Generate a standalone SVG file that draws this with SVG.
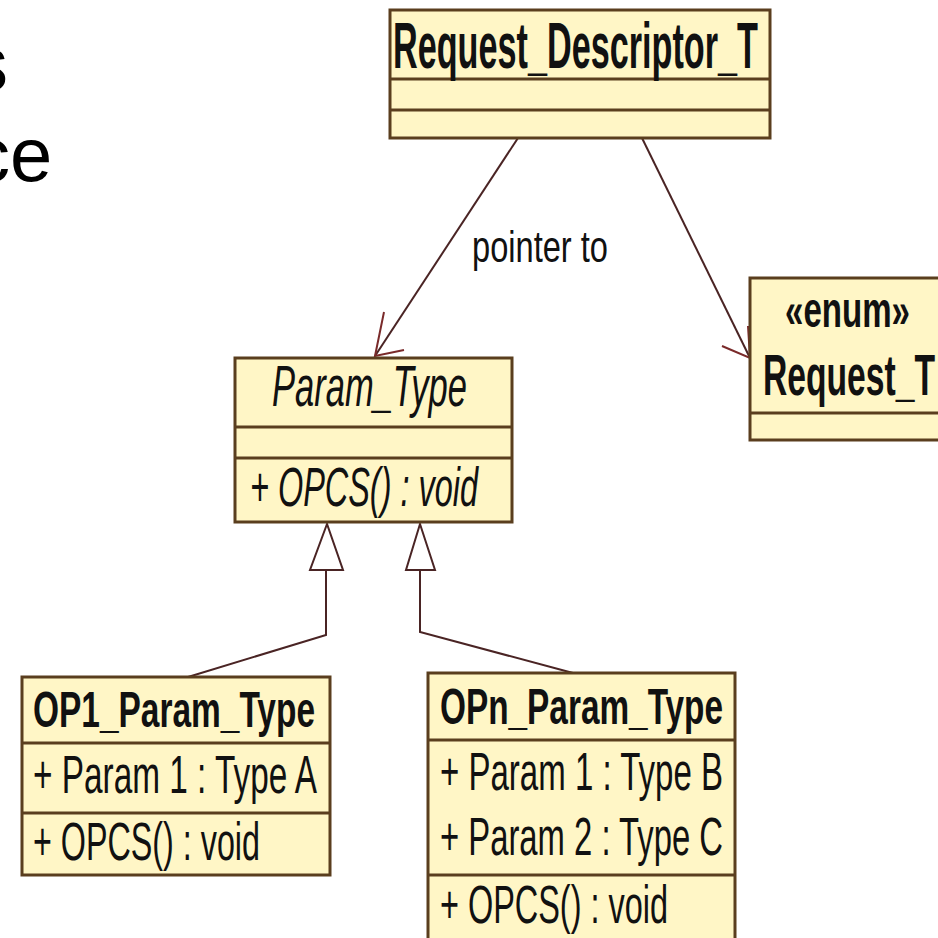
<svg xmlns="http://www.w3.org/2000/svg" width="938" height="938" viewBox="0 0 938 938">
  <style>
    .box { fill: #fff6c6; stroke: #5a3e1e; stroke-width: 3; }
    .sep { stroke: #5a3e1e; stroke-width: 3; }
    .t { font-family: "Liberation Sans", Arial, sans-serif; fill: #111; }
    .title { font-weight: bold; }
    .it { font-style: italic; }
    .edge { fill: none; stroke: #4a2424; stroke-width: 2; }
    .head { fill: none; stroke: #7a2a2a; stroke-width: 2; }
    .tri { fill: #ffffff; stroke: #4a2424; stroke-width: 2; }
    .slide { font-family: "Liberation Sans", Arial, sans-serif; font-size: 76px; fill: #000; }
  </style>

  <rect width="938" height="938" fill="#ffffff"/>

  <!-- slide text clipped at the left edge -->
  <text class="slide" x="-30" y="90">s</text>
  <text class="slide" x="-28" y="181">ce</text>

  <!-- connectors -->
  <g id="connectors">
    <!-- association: pointer to -->
    <line class="edge" x1="518" y1="138" x2="375" y2="356"/>
    <path class="head" d="M384,312 L375,356 L404,350"/>
    <text class="t" x="472" y="262" font-size="44" textLength="136" lengthAdjust="spacingAndGlyphs">pointer to</text>
    <!-- association to enum -->
    <line class="edge" x1="642" y1="138" x2="750" y2="358"/>
    <path class="head" d="M748,326 L750,358 L722,346"/>
    <!-- generalization OP1 -> Param_Type -->
    <path class="edge" d="M188,677 L326,635 L326,570"/>
    <polygon class="tri" points="327,524 310,570 343,570"/>
    <!-- generalization OPn -> Param_Type -->
    <path class="edge" d="M573,673 L420,632 L420,570"/>
    <polygon class="tri" points="420,524 406,570 435,570"/>
  </g>

  <g id="request-descriptor">
    <rect class="box" x="390" y="10" width="380" height="128"/>
    <line class="sep" x1="390" y1="79" x2="770" y2="79"/>
    <line class="sep" x1="390" y1="110" x2="770" y2="110"/>
    <text class="t title" x="393" y="68" font-size="64" textLength="365" lengthAdjust="spacingAndGlyphs">Request_Descriptor_T</text>
  </g>

  <g id="request-t">
    <rect class="box" x="750" y="278" width="200" height="162"/>
    <line class="sep" x1="750" y1="413" x2="950" y2="413"/>
    <text class="t title" x="785" y="327" font-size="50" textLength="125" lengthAdjust="spacingAndGlyphs">«enum»</text>
    <text class="t title" x="763" y="395" font-size="58" textLength="172" lengthAdjust="spacingAndGlyphs">Request_T</text>
  </g>

  <g id="param-type">
    <rect class="box" x="235" y="358" width="277" height="164"/>
    <line class="sep" x1="235" y1="427" x2="512" y2="427"/>
    <line class="sep" x1="235" y1="458" x2="512" y2="458"/>
    <text class="t it" x="272" y="406" font-size="58" textLength="195" lengthAdjust="spacingAndGlyphs">Param_Type</text>
    <text class="t it" x="250" y="506" font-size="56" textLength="228" lengthAdjust="spacingAndGlyphs">+ OPCS() : void</text>
  </g>

  <g id="op1-param-type">
    <rect class="box" x="22" y="677" width="308" height="198"/>
    <line class="sep" x1="22" y1="743" x2="330" y2="743"/>
    <line class="sep" x1="22" y1="813" x2="330" y2="813"/>
    <text class="t title" x="33" y="727" font-size="50" textLength="282" lengthAdjust="spacingAndGlyphs">OP1_Param_Type</text>
    <text class="t" x="33" y="793" font-size="53" textLength="284" lengthAdjust="spacingAndGlyphs">+ Param 1 : Type A</text>
    <text class="t" x="33" y="860" font-size="53" textLength="227" lengthAdjust="spacingAndGlyphs">+ OPCS() : void</text>
  </g>

  <g id="opn-param-type">
    <rect class="box" x="428" y="673" width="307" height="280"/>
    <line class="sep" x1="428" y1="740" x2="735" y2="740"/>
    <line class="sep" x1="428" y1="875" x2="735" y2="875"/>
    <text class="t title" x="440" y="724" font-size="50" textLength="283" lengthAdjust="spacingAndGlyphs">OPn_Param_Type</text>
    <text class="t" x="440" y="790" font-size="53" textLength="283" lengthAdjust="spacingAndGlyphs">+ Param 1 : Type B</text>
    <text class="t" x="440" y="855" font-size="53" textLength="283" lengthAdjust="spacingAndGlyphs">+ Param 2 : Type C</text>
    <text class="t" x="440" y="923" font-size="53" textLength="228" lengthAdjust="spacingAndGlyphs">+ OPCS() : void</text>
  </g>
</svg>
